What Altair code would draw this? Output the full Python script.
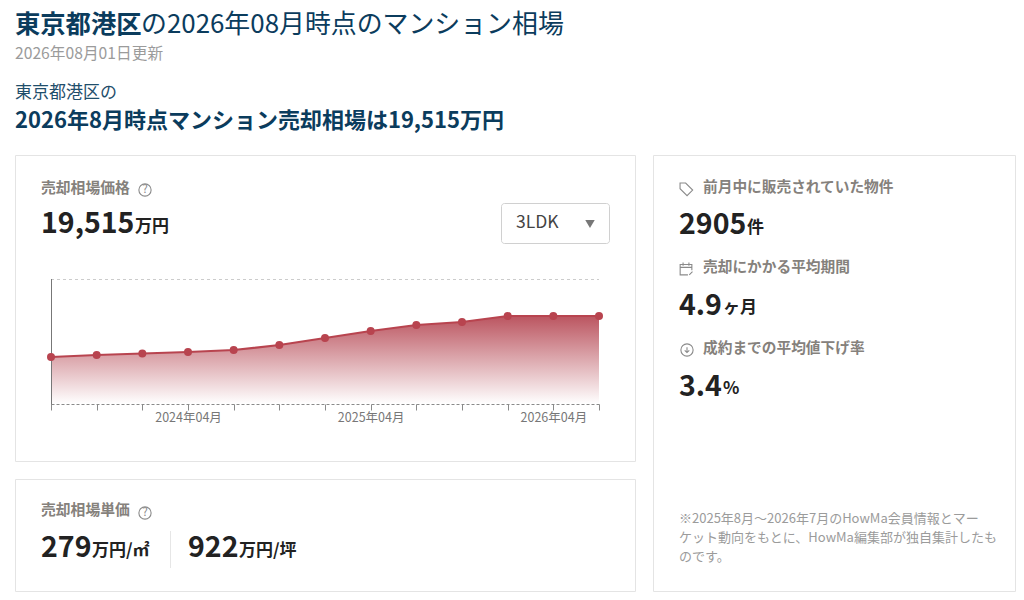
import altair as alt
import pandas as pd

months = ["2023年07月","2023年10月","2024年01月","2024年04月","2024年07月","2024年10月","2025年01月",
          "2025年04月","2025年07月","2025年10月","2026年01月","2026年04月","2026年07月"]
prices = [10420,10870,11200,11530,11980,13080,14640,16190,17520,18180,19515,19515,19515]
shown_labels = ["2024年04月","2025年04月","2026年04月"]
y_top = 27720

df = pd.DataFrame({"month": months, "price": prices, "base": [0]*len(months)})
FONT = "Noto Sans CJK JP"
NAVY, DARK, GREY, LGREY = "#0b3c5d", "#222222", "#85817c", "#9b9b9b"
RED = "#b8444f"
CH = 584

def P(v):  # page px to chart px (8px page margin)
    return v - 8

x_scale = alt.Scale(type="point", padding=0, range=[P(51), P(599)], domain=months)
x_axis = alt.Axis(orient="bottom", offset=P(404) - CH, zindex=1, domainColor="#8a8a8a", domainDash=[3, 2], domainWidth=1,
                  tickColor="#8a8a8a", tickSize=6, grid=False, labelColor="#777777", labelFont=FONT,
                  labelFontSize=12.5, labelPadding=1, labelAngle=0, labelOverlap=False, labelFlush=False,
                  labelExpr="indexof(" + str(shown_labels) + ", datum.value) >= 0 ? datum.value : ''")
x_enc = alt.X("month:N", title=None, scale=x_scale, axis=x_axis)
y_scale = alt.Scale(domain=[0, y_top], range=[P(404), P(279)])
y_enc = alt.Y("price:Q", scale=y_scale, axis=None, title=None)

base = alt.Chart(df)
area = base.mark_area(color=alt.Gradient(gradient="linear", x1=1, x2=1, y1=0, y2=1,
        stops=[alt.GradientStop(offset=0, color="#bb5560"), alt.GradientStop(offset=1, color="#ffffff")])).encode(
        x=x_enc, y=y_enc, y2=alt.Y2("base:Q"))
line = base.mark_line(color=RED, strokeWidth=2.2).encode(x=x_enc, y=y_enc)
pts = base.mark_point(filled=True, color=RED, opacity=1, size=64).encode(x=x_enc, y=y_enc)
top_rule = alt.Chart(pd.DataFrame({"a": [months[0]], "b": [months[-1]], "v": [y_top]})).mark_rule(
        color="#cccccc", strokeDash=[3, 3], strokeWidth=1, yOffset=0.5).encode(
        x=alt.X("a:N", title=None, scale=x_scale, axis=x_axis), x2="b:N", y=alt.Y("v:Q", scale=y_scale, axis=None, title=None))
left_rule = alt.Chart(pd.DataFrame({"a": [months[0]], "v": [y_top]})).mark_rule(
        color="#777777", strokeWidth=1, xOffset=0.5).encode(
        x=alt.X("a:N", title=None, scale=x_scale, axis=x_axis), y=alt.Y("v:Q", scale=y_scale, axis=None, title=None), y2=alt.value(P(410)))

def card(x0, y0, x1, y1, stroke="#e4e4e4", radius=0):
    return alt.Chart().mark_rect(fill="#ffffff", stroke=stroke, strokeWidth=1, cornerRadius=radius).encode(
        x=alt.value(P(x0)), x2=alt.value(P(x1)), y=alt.value(P(y0)), y2=alt.value(P(y1)))

def txt(s, x, y, size, color, weight="normal", align="left"):
    return alt.Chart().mark_text(font=FONT, fontSize=size, fontWeight=weight, align=align, baseline="middle", color=color).encode(
        x=alt.value(P(x)), y=alt.value(P(y + 1)), text=alt.value(s))

def sym(shape, x, y, size, color="#8a8a8a", fill=None, sw=1.1):
    kw = dict(shape=shape, size=size, stroke=color, strokeWidth=sw, opacity=1, filled=False)
    if fill:
        kw.update(fill=fill, filled=True)
    return alt.Chart().mark_point(**kw).encode(x=alt.value(P(x)), y=alt.value(P(y)))

def help_icon(x, y):
    return sym("circle", x, y, 150) + txt("?", x, y - 1, 11, "#8a8a8a", align="center")

TAG = "M-0.85,-0.85 L-0.05,-0.85 L0.95,0.15 L0.15,0.95 L-0.85,-0.05 Z"
CAL = "M0.9,0.2 L0.9,-0.7 L-0.9,-0.7 L-0.9,0.9 L0.3,0.9 M-0.9,-0.25 L0.9,-0.25 M-0.45,-1 L-0.45,-0.5 M0.45,-1 L0.45,-0.5 M0.5,0.9 L1,0.4"
ARW = "M0,-0.45 L0,0.4 M-0.38,0.05 L0,0.42 L0.38,0.05"

layers = [
    card(15.5, 155.5, 635.5, 461.5), card(15.5, 479.5, 635.5, 591.5), card(653.5, 155.5, 1015.5, 591.5),
    txt("東京都港区", 15, 24, 25.3, NAVY, "bold"),
    txt("の2026年08月時点のマンション相場", 141, 24, 25.9, NAVY),
    txt("2026年08月01日更新", 15, 53, 15.7, LGREY),
    txt("東京都港区の", 15, 92, 17, "#1f4e6b"),
    txt("2026年8月時点マンション売却相場は19,515万円", 15, 120, 22, NAVY, "bold"),
    txt("売却相場価格", 41, 188, 14.8, GREY, "bold"), help_icon(145, 190),
    txt("19,515", 41, 223, 28.5, DARK, "bold"), txt("万円", 135, 226, 17, DARK, "bold"),
    card(501.5, 203.5, 609.5, 243.5, "#d0d0d0", 3),
    txt("3LDK", 516, 222, 17.5, "#444444"),
    sym("triangle-down", 590, 224, 90, "#777777", fill="#777777", sw=0),
    top_rule, area, left_rule, line, pts,
    txt("売却相場単価", 41, 510, 14.8, GREY, "bold"), help_icon(145, 513),
    txt("279", 41, 547, 28.5, DARK, "bold"), txt("万円/㎡", 92, 550, 17, DARK, "bold"),
    alt.Chart().mark_rule(color="#e6e6e6").encode(x=alt.value(P(170.5)), y=alt.value(P(531)), y2=alt.value(P(568))),
    txt("922", 188, 547, 28.5, DARK, "bold"), txt("万円/坪", 239, 550, 17, DARK, "bold"),
    sym(TAG, 686, 189, 196),
    txt("前月中に販売されていた物件", 703, 187, 14.7, GREY, "bold"),
    txt("2905", 679, 224, 28.5, DARK, "bold"), txt("件", 747, 227, 17, DARK, "bold"),
    sym(CAL, 686, 269, 169),
    txt("売却にかかる平均期間", 703, 267, 14.7, GREY, "bold"),
    txt("4.9", 679, 305, 28.5, DARK, "bold"), txt("ヶ月", 723, 307, 17, DARK, "bold"),
    sym("circle", 687, 350, 150), sym(ARW, 687, 350, 144),
    txt("成約までの平均値下げ率", 703, 348, 14.7, GREY, "bold"),
    txt("3.4", 679, 386, 28.5, DARK, "bold"), txt("%", 723, 388, 17, DARK, "bold"),
    txt("※2025年8月～2026年7月のHowMa会員情報とマー", 679, 518, 13, LGREY),
    txt("ケット動向をもとに、HowMa編集部が独自集計したも", 679, 537, 13, LGREY),
    txt("のです。", 679, 556, 13, LGREY),
]

chart = alt.layer(*layers).properties(width=1008, height=CH, padding=0, autosize="none").configure_view(stroke=None)
chart.save("out.html", embed_options={"renderer": "svg", "actions": False})
